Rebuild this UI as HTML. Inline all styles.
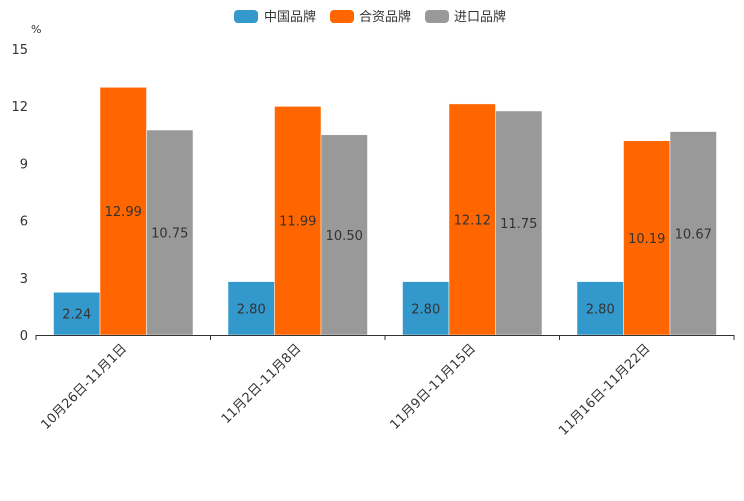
<!DOCTYPE html>
<html><head><meta charset="utf-8"><style>
body{margin:0;background:#fff;}
svg text{font-family:"DejaVu Sans","Noto Sans CJK SC",sans-serif;}
</style></head><body>
<svg id="chart" width="744" height="496" xmlns="http://www.w3.org/2000/svg">
<g id="legend">
<g><rect x="234" y="10" width="24" height="13" rx="4" fill="#3399cc"/><text x="264" y="21" font-size="13" fill="#333">中国品牌</text></g>
<g><rect x="330" y="10" width="24" height="13" rx="4" fill="#ff6600"/><text x="359" y="21" font-size="13" fill="#333">合资品牌</text></g>
<g><rect x="425" y="10" width="24" height="13" rx="4" fill="#999999"/><text x="454" y="21" font-size="13" fill="#333">进口品牌</text></g>
</g>
<text x="31" y="33" font-size="11" fill="#333">%</text>
<g id="yaxis"></g>
<g id="bars"></g>
<g id="xaxis"></g>
</svg>
<script>
const categories=["10月26日-11月1日","11月2日-11月8日","11月9日-11月15日","11月16日-11月22日"];
const chinaValues=[2.24,2.80,2.80,2.80];
const jointValues=[12.99,11.99,12.12,10.19];
const importValues=[10.75,10.50,11.75,10.67];
const yTicks=[0,3,6,9,12,15];
const seriesColors=["#3399cc","#ff6600","#999999"];
const seriesNames=["china","joint","import"];

const NS="http://www.w3.org/2000/svg";
const x0=36,x1=734,y0=335,yTop=49,yMax=15;
const yS=v=>y0-(y0-yTop)*v/yMax;
const gw=(x1-x0)/categories.length;
const bw=46.5,pad=(gw-3*bw)/2;
function mk(tag,attrs,parent){const e=document.createElementNS(NS,tag);for(const k in attrs)e.setAttribute(k,attrs[k]);parent.appendChild(e);return e;}
const ya=document.getElementById('yaxis');
yTicks.forEach(t=>{
  const tx=mk('text',{x:28,y:yS(t)+5,'font-size':13,'text-anchor':'end',fill:'#333'},ya);
  
  
  tx.textContent=t;
});
const xa=document.getElementById('xaxis');
const al=mk('line',{x1:x0,y1:y0+0.5,x2:x1,y2:y0+0.5,stroke:'#333','stroke-width':1},xa);


for(let i=0;i<=categories.length;i++){
  const x=x0+gw*i;
  const tk=mk('line',{x1:x,y1:y0,x2:x,y2:y0+5,stroke:'#333'},xa);
  
  
}
const bg=document.getElementById('bars');
const all=[chinaValues,jointValues,importValues];
categories.forEach((c,i)=>{
  const cx=x0+gw*(i+0.5);
  const lb=mk('text',{x:cx+4,y:y0+14,'font-size':13,'text-anchor':'end',fill:'#333',transform:`rotate(-45 ${cx+4} ${y0+14})`},xa);
  
  
  lb.textContent=c;
  all.forEach((vals,s)=>{
    const v=vals[i];const x=x0+gw*i+pad+bw*s;
    const r=mk('rect',{x:x,y:yS(v),width:bw,height:y0-yS(v),fill:seriesColors[s],stroke:'#fff','stroke-width':0.5},bg);
    
    
    const t=mk('text',{x:x+bw/2,y:(yS(v)+y0)/2+5,'font-size':13,'text-anchor':'middle',fill:'#333'},bg);
    
    
    t.textContent=v.toFixed(2);
  });
});
</script>
</body></html>
